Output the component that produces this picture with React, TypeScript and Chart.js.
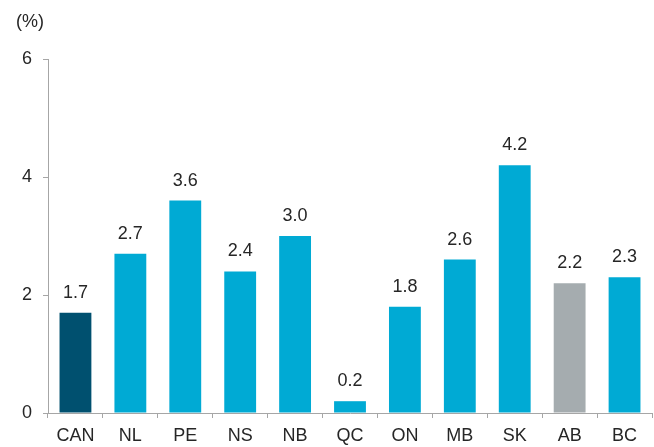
import React, { useEffect, useRef } from "react";
import { Chart, registerables } from "chart.js";

Chart.register(...registerables);

const categories = ["CAN", "NL", "PE", "NS", "NB", "QC", "ON", "MB", "SK", "AB", "BC"];
const values = [1.7, 2.7, 3.6, 2.4, 3.0, 0.2, 1.8, 2.6, 4.2, 2.2, 2.3];
const barColors = [
  "#00506F", "#00AAD4", "#00AAD4", "#00AAD4", "#00AAD4", "#00AAD4",
  "#00AAD4", "#00AAD4", "#00AAD4", "#A5ACAF", "#00AAD4",
];
const yTicks = [0, 2, 4, 6];
const unitLabel = "(%)";

const FONT = "'Liberation Sans', Arial, sans-serif";
const TEXT = "#262626";
const AXIS = "#A6A6A6";

const labelsPlugin = {
  id: "valueLabels",
  afterDatasetsDraw(chart: any) {
    const ctx = chart.ctx;
    const meta = chart.getDatasetMeta(0);
    ctx.save();
    ctx.font = `18px ${FONT}`;
    ctx.fillStyle = TEXT;
    ctx.textAlign = "center";
    ctx.textBaseline = "alphabetic";
    meta.data.forEach((bar: any, i: number) => {
      ctx.fillText(values[i].toFixed(1), bar.x, bar.y - 15);
    });
    ctx.textAlign = "left";
    ctx.fillText(unitLabel, 16, 27);
    ctx.restore();
  },
};

export default function App() {
  const ref = useRef<HTMLCanvasElement>(null);
  useEffect(() => {
    document.body.style.margin = "0";
    const chart = new Chart(ref.current!, {
      type: "bar",
      data: {
        labels: categories,
        datasets: [
          {
            data: values,
            backgroundColor: barColors,
            barPercentage: 0.58,
            categoryPercentage: 1,
          },
        ],
      },
      options: {
        animation: false,
        responsive: false,
        maintainAspectRatio: false,
        layout: { padding: { top: 59, right: 2, left: 0, bottom: 0 } },
        plugins: { legend: { display: false }, tooltip: { enabled: false } },
        scales: {
          x: {
            grid: {
              offset: true,
              drawOnChartArea: false,
              drawTicks: true,
              tickLength: 5,
              color: AXIS,
            },
            border: { display: true, color: AXIS, width: 1 },
            ticks: { color: TEXT, font: { family: FONT, size: 18 }, padding: 7 },
            afterFit(scale: any) {
              scale.height = 34;
            },
          },
          y: {
            min: 0,
            max: 6,
            afterBuildTicks(scale: any) {
              scale.ticks = yTicks.map((v) => ({ value: v }));
            },
            grid: {
              drawOnChartArea: false,
              drawTicks: true,
              tickLength: 5,
              color: AXIS,
            },
            border: { display: true, color: AXIS, width: 1 },
            ticks: { color: TEXT, font: { family: FONT, size: 18 }, padding: 11 },
            afterFit(scale: any) {
              scale.width = 48;
            },
          },
        },
      },
      plugins: [labelsPlugin],
    });
    return () => chart.destroy();
  }, []);
  return (
    <div style={{ position: "fixed", left: 0, top: 0, width: 654, height: 447 }}>
      <canvas ref={ref} width={654} height={447} style={{ width: 654, height: 447 }} />
    </div>
  );
}
